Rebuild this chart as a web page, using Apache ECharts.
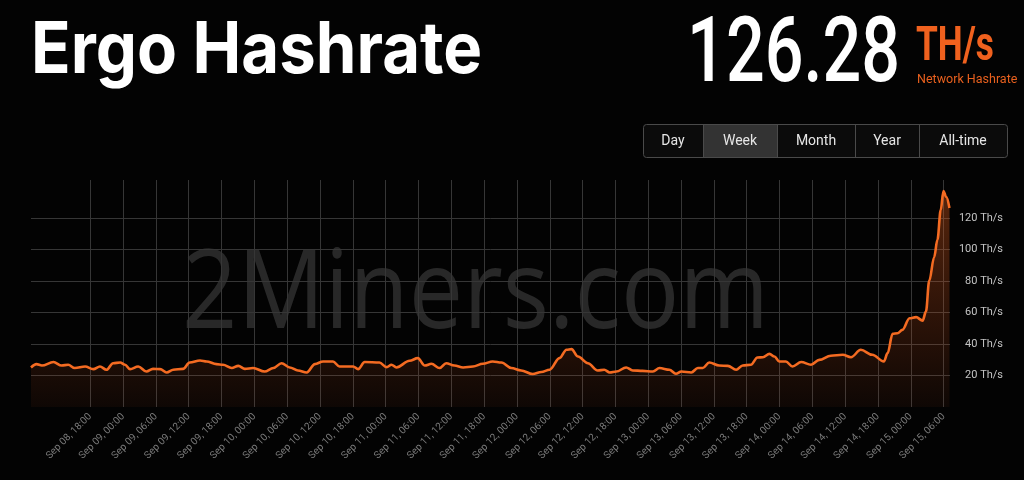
<!DOCTYPE html>
<html>
<head>
<meta charset="utf-8">
<script src="https://cdn.jsdelivr.net/npm/echarts@6/dist/echarts.min.js"></script>
<style>
html,body{margin:0;padding:0;background:#030303;}
#c{width:1024px;height:480px;}
</style>
</head>
<body>
<div id="c"></div>
<script>
// ---- data ----
const startTime = '2021-09-08T07:10:00';
const endTime = '2021-09-15T07:10:00';
// hours after startTime
const hours = [0,1.0,2.0,4.1,5.6,6.8,8.0,9.9,11.4,12.6,13.8,15.0,16.3,17.2,18.1,19.6,21.1,22.3,23.6,24.8,
  26.0,27.8,29.0,30.9,32.1,33.9,35.1,36.7,37.9,39.1,40.6,42.7,44.3,45.8,47.3,48.8,50.4,51.9,53.4,55.2,
  56.4,58.9,59.8,61.0,63.7,65.0,65.9,66.8,69.2,70.7,72.0,73.2,74.7,75.9,77.4,79.0,80.8,82.6,84.4,86.0,
  87.8,89.6,91.7,93.3,94.8,96.6,97.9,98.8,100.0,101.8,103.6,104.8,105.8,107.0,108.8,110.0,111.8,113.7,114.9,116.7,
  117.9,118.9,120.7,121.9,122.8,124.0,125.8,127.4,128.9,130.1,131.6,132.8,133.8,135.0,135.9,136.8,138.0,139.2,140.8,142.6,
  144.1,146.2,148.4,149.9,151.7,153.8,155.9,156.6,157.5,158.4,159.3,160.6,161.8,163.0,163.6,164.2,165.1,165.7,166.3,166.8,
  167.3,167.9];
// hashrate, TH/s
const hashrate = [25.1,27.2,26.3,28.5,26.3,26.8,24.7,25.7,24.0,25.7,23.6,27.8,28.2,26.8,24.0,25.7,22.5,24.2,24.0,21.9,
  23.6,24.2,28.2,29.5,28.9,27.2,26.8,24.7,26.1,24.2,24.7,22.5,24.7,27.8,25.1,23.2,21.9,27.2,28.9,28.9,
  25.7,25.7,24.0,28.5,28.2,25.3,26.8,25.1,29.3,31.0,26.3,27.4,24.7,27.8,26.3,25.1,25.7,27.4,28.9,28.2,
  24.7,23.2,20.9,22.2,23.6,31.0,36.3,36.7,32.0,27.8,23.2,23.6,21.9,22.5,25.1,23.2,22.9,22.5,24.7,23.6,
  21.1,22.5,21.9,24.7,24.7,28.2,26.3,26.1,23.6,26.3,26.8,31.4,31.6,33.7,32.0,28.9,28.9,25.7,28.5,26.8,
  29.9,32.5,33.1,31.6,36.3,33.1,28.9,34.2,46.4,46.8,48.9,56.3,57.0,54.8,60.5,80.0,95.0,106.0,124.9,137.0,
  133.3,126.3];
const xTickTimes = ['2021-09-08T18:00','2021-09-09T00:00','2021-09-09T06:00','2021-09-09T12:00','2021-09-09T18:00',
  '2021-09-10T00:00','2021-09-10T06:00','2021-09-10T12:00','2021-09-10T18:00','2021-09-11T00:00','2021-09-11T06:00',
  '2021-09-11T12:00','2021-09-11T18:00','2021-09-12T00:00','2021-09-12T06:00','2021-09-12T12:00','2021-09-12T18:00',
  '2021-09-13T00:00','2021-09-13T06:00','2021-09-13T12:00','2021-09-13T18:00','2021-09-14T00:00','2021-09-14T06:00',
  '2021-09-14T12:00','2021-09-14T18:00','2021-09-15T00:00','2021-09-15T06:00'];
const yTicks = [20,40,60,80,100,120];
const rangeButtons = ['Day','Week','Month','Year','All-time'];
const currentValue = '126.28';

// ---- build ----
const t0 = new Date(startTime).getTime();
const t1 = new Date(endTime).getTime();
const seriesData = hours.map((h,i)=>[t0 + h*3600000, hashrate[i]]);
const xTicks = xTickTimes.map(s=>new Date(s).getTime());
const MON = ['Jan','Feb','Mar','Apr','May','Jun','Jul','Aug','Sep','Oct','Nov','Dec'];
const pad = n => (n<10?'0':'')+n;
function fmtTime(v){const d=new Date(v);return MON[d.getMonth()]+' '+pad(d.getDate())+', '+pad(d.getHours())+':'+pad(d.getMinutes());}

const ORANGE = '#f46b22';
const btnX = [643,703,777,855,919,1007];
const btnY = 124, btnH = 33;
const graphics = [
  {type:'text', z:-10, x:182, y:297, scaleX:0.89,
    style:{text:'2Miners.com', font:'400 109px "Open Sans"', fill:'#282828', align:'left', verticalAlign:'middle'}},
  {type:'text', x:31, y:52, scaleX:0.92,
    style:{text:'Ergo Hashrate', font:'700 71px Inter', fill:'#ffffff', align:'left', verticalAlign:'middle'}},
  {type:'text', x:900, y:58, scaleX:0.75,
    style:{text:currentValue, font:'500 91px Roboto', fill:'#ffffff', align:'right', verticalAlign:'middle'}},
  {type:'text', x:916, y:48, scaleX:0.72,
    style:{text:'TH/s', font:'700 49px Roboto', fill:'#f0611e', align:'left', verticalAlign:'middle'}},
  {type:'text', x:917, y:80,
    style:{text:'Network Hashrate', font:'400 12.5px Roboto', fill:'#e8601e', align:'left', verticalAlign:'middle'}},
  {type:'rect', shape:{x:btnX[0]+0.5, y:btnY+0.5, width:btnX[5]-btnX[0], height:btnH, r:3},
    style:{fill:'#0b0b0b', stroke:'#4a4a4a', lineWidth:1}},
  {type:'rect', shape:{x:btnX[1]+0.5, y:btnY+1, width:btnX[2]-btnX[1], height:btnH-1},
    style:{fill:'#333333'}}
];
for(let i=1;i<5;i++){
  graphics.push({type:'line', shape:{x1:btnX[i]+0.5,y1:btnY+0.5,x2:btnX[i]+0.5,y2:btnY+btnH+0.5},
    style:{stroke:'#4a4a4a', lineWidth:1}});
}
rangeButtons.forEach((b,i)=>{
  graphics.push({type:'text', x:(btnX[i]+btnX[i+1])/2, y:btnY+btnH/2+1,
    style:{text:b, font:'400 14px Roboto', fill:'#e6e6e6', align:'center', verticalAlign:'middle'}});
});

const chart = echarts.init(document.getElementById('c'), null, {renderer:'canvas'});
chart.setOption({
  backgroundColor:'#030303',
  animation:false,
  graphic: graphics,
  grid:{left:31, right:74, top:180, bottom:73, containLabel:false},
  xAxis:{
    type:'value', min:t0, max:t1,
    axisLine:{show:false},
    axisTick:{show:false, customValues:xTicks},
    splitLine:{show:true, lineStyle:{color:'#363636', width:1}},
    axisLabel:{customValues:xTicks, rotate:45, margin:8, color:'#7c7c7c', fontSize:10,
      fontFamily:'Roboto', formatter:fmtTime, hideOverlap:false}
  },
  yAxis:{
    type:'value', position:'right', min:0, max:144,
    axisLine:{show:false},
    axisTick:{show:false, customValues:yTicks},
    splitLine:{show:true, lineStyle:{color:'#363636', width:1}},
    axisLabel:{customValues:yTicks, formatter:'{value} Th/s', align:'right', margin:53,
      color:'#c4c4c4', fontSize:11, fontFamily:'Roboto'}
  },
  series:[{
    type:'line', data:seriesData, showSymbol:false, smooth:0.35, smoothMonotone:'x',
    lineStyle:{color:ORANGE, width:2.6},
    itemStyle:{color:ORANGE},
    areaStyle:{color:new echarts.graphic.LinearGradient(0,0,0,1,[
      {offset:0, color:'rgba(240,100,30,0.50)'},
      {offset:1, color:'rgba(240,90,30,0.07)'}
    ])}
  }]
});
</script>
</body>
</html>
